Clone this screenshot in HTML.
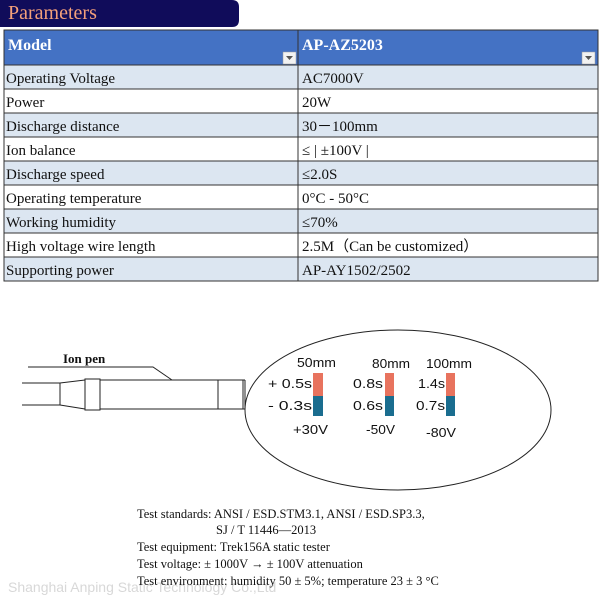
<!DOCTYPE html>
<html><head><meta charset="utf-8"><style>
html,body{margin:0;padding:0;background:#fff;}
body{width:600px;height:600px;position:relative;overflow:hidden;}
</style></head><body>
<svg width="600" height="600" xmlns="http://www.w3.org/2000/svg" style="position:absolute;left:0;top:0">
<path d="M0 0 H232 Q239 0 239 7 V20 Q239 27 232 27 H0 Z" fill="#100c5a"/>
<text x="8" y="19" font-family="Liberation Serif,serif" font-size="20" fill="#f4a07a">Parameters</text>
<rect x="4" y="30" width="594" height="35" fill="#4472c4"/>
<text x="8" y="50" font-family="Liberation Serif,serif" font-weight="bold" font-size="16" fill="#fff">Model</text>
<text x="302" y="50" font-family="Liberation Serif,serif" font-weight="bold" font-size="16" fill="#fff">AP-AZ5203</text>
<rect x="283" y="52" width="13" height="12" fill="#f2f2f2" stroke="#999" stroke-width="0.5"/>
<path d="M286 56 h7 l-3.5 4z" fill="#555"/>
<rect x="582" y="52" width="13" height="12" fill="#f2f2f2" stroke="#999" stroke-width="0.5"/>
<path d="M585 56 h7 l-3.5 4z" fill="#555"/>
<g font-family="Liberation Serif,serif" font-size="15" fill="#111">
<rect x="4" y="65" width="594" height="24" fill="#dce6f1"/>
<rect x="4" y="113" width="594" height="24" fill="#dce6f1"/>
<rect x="4" y="161" width="594" height="24" fill="#dce6f1"/>
<rect x="4" y="209" width="594" height="24" fill="#dce6f1"/>
<rect x="4" y="257" width="594" height="24" fill="#dce6f1"/>
<text x="6" y="83">Operating Voltage</text><text x="302" y="83">AC7000V</text>
<text x="6" y="107">Power</text><text x="302" y="107">20W</text>
<text x="6" y="131">Discharge distance</text><text x="302" y="131">30－100mm</text>
<text x="6" y="155">Ion balance</text><text x="302" y="155">≤ | ±100V |</text>
<text x="6" y="179">Discharge speed</text><text x="302" y="179">≤2.0S</text>
<text x="6" y="203">Operating temperature</text><text x="302" y="203">0°C - 50°C</text>
<text x="6" y="227">Working humidity</text><text x="302" y="227">≤70%</text>
<text x="6" y="251">High voltage wire length</text><text x="302" y="251">2.5M（Can be customized）</text>
<text x="6" y="275">Supporting power</text><text x="302" y="275">AP-AY1502/2502</text>
</g>
<g stroke="#333" stroke-width="1" fill="none">
<rect x="4" y="30" width="594" height="251"/>
<line x1="298" y1="30" x2="298" y2="281"/>
<line x1="4" y1="65" x2="598" y2="65"/>
<line x1="4" y1="89" x2="598" y2="89"/><line x1="4" y1="113" x2="598" y2="113"/>
<line x1="4" y1="137" x2="598" y2="137"/><line x1="4" y1="161" x2="598" y2="161"/>
<line x1="4" y1="185" x2="598" y2="185"/><line x1="4" y1="209" x2="598" y2="209"/>
<line x1="4" y1="233" x2="598" y2="233"/><line x1="4" y1="257" x2="598" y2="257"/>
</g>
<g stroke="#222" stroke-width="1" fill="none">
<line x1="22" y1="383" x2="60" y2="383"/><line x1="22" y1="405" x2="60" y2="405"/>
<line x1="60" y1="383" x2="60" y2="405"/>
<path d="M60 383 L85 380 M60 405 L85 409"/>
<rect x="85" y="379" width="15" height="31"/>
<line x1="100" y1="380" x2="245" y2="380"/><line x1="100" y1="409" x2="245" y2="409"/>
<line x1="218" y1="380" x2="218" y2="409"/>
<line x1="243" y1="380" x2="243" y2="409"/>
<line x1="245" y1="380" x2="245" y2="409"/>
<path d="M28 367 H153 L172 380"/>
<ellipse cx="398" cy="410" rx="153" ry="80"/>
</g>
<text x="63" y="363" font-family="Liberation Serif,serif" font-weight="bold" font-size="13" fill="#111">Ion pen</text>
<rect x="313" y="373" width="10" height="23" fill="#e8735e"/><rect x="313" y="396" width="10" height="20" fill="#1a6d8f"/>
<rect x="385" y="373" width="9" height="23" fill="#e8735e"/><rect x="385" y="396" width="9" height="20" fill="#1a6d8f"/>
<rect x="446" y="373" width="9" height="23" fill="#e8735e"/><rect x="446" y="396" width="9" height="20" fill="#1a6d8f"/>
<g font-family="Liberation Sans,sans-serif" font-size="13" fill="#111">
<text x="297" y="367" textLength="39" lengthAdjust="spacingAndGlyphs">50mm</text>
<text x="372" y="368" textLength="38" lengthAdjust="spacingAndGlyphs">80mm</text>
<text x="426" y="368" textLength="46" lengthAdjust="spacingAndGlyphs">100mm</text>
<text x="268" y="388" textLength="44" lengthAdjust="spacingAndGlyphs">+ 0.5s</text>
<text x="353" y="388" textLength="30" lengthAdjust="spacingAndGlyphs">0.8s</text>
<text x="418" y="388" textLength="27" lengthAdjust="spacingAndGlyphs">1.4s</text>
<text x="268" y="410" textLength="44" lengthAdjust="spacingAndGlyphs">- 0.3s</text>
<text x="353" y="410" textLength="30" lengthAdjust="spacingAndGlyphs">0.6s</text>
<text x="416" y="410" textLength="29" lengthAdjust="spacingAndGlyphs">0.7s</text>
<text x="293" y="434" textLength="35" lengthAdjust="spacingAndGlyphs">+30V</text>
<text x="366" y="434" textLength="29" lengthAdjust="spacingAndGlyphs">-50V</text>
<text x="426" y="437" textLength="30" lengthAdjust="spacingAndGlyphs">-80V</text>
</g>
<text x="8" y="592" font-family="Liberation Sans,sans-serif" font-size="14" fill="#d8d8d8">Shanghai Anping Static Technology Co.,Ltd</text>
<g font-family="Liberation Serif,serif" font-size="12.5" fill="#111">
<text x="137" y="518">Test standards: ANSI / ESD.STM3.1, ANSI / ESD.SP3.3,</text>
<text x="216" y="534">SJ / T 11446—2013</text>
<text x="137" y="551">Test equipment: Trek156A static tester</text>
<text x="137" y="568">Test voltage: ± 1000V → ± 100V attenuation</text>
<text x="137" y="585">Test environment: humidity 50 ± 5%; temperature 23 ± 3 °C</text>
</g>
</svg>
</body></html>
